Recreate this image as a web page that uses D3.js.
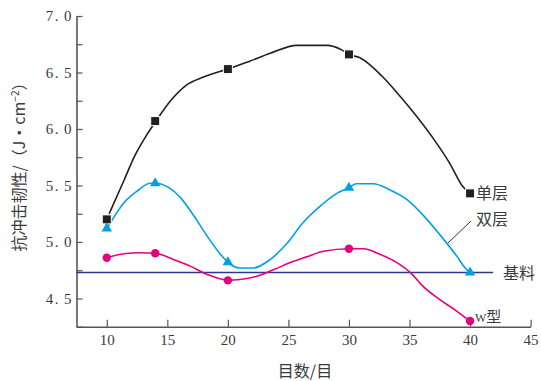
<!DOCTYPE html>
<html><head><meta charset="utf-8">
<script src="https://cdn.jsdelivr.net/npm/d3@7"></script>
<style>
body{margin:0;background:#fff;}
svg{display:block;}
</style></head>
<body>
<svg id="chart" width="541" height="381"></svg>
<script>
// ---- data ----
const markerX = [10, 14, 20, 30, 40];
const singleMarks = [5.20, 6.07, 6.53, 6.66, 5.43];
const doubleMarks = [5.12, 5.52, 4.82, 5.48, 4.73];
const wMarks = [4.86, 4.90, 4.66, 4.94, 4.30];
const baseValue = 4.73;

const singleCurveX = [10.2, 11.4, 12.3, 13.2, 14, 15.2, 16.6, 18.0, 19.4, 20, 21.8, 23.5, 25.7, 28.2, 29.4, 30, 30.9, 32.8, 33.9, 35.6, 37.0, 38.3, 39.4, 40];
const singleCurveY = [5.25, 5.54, 5.76, 5.93, 6.06, 6.24, 6.39, 6.46, 6.51, 6.53, 6.60, 6.67, 6.74, 6.74, 6.70, 6.66, 6.63, 6.46, 6.33, 6.11, 5.91, 5.70, 5.49, 5.43];

const doubleCurveX = [10, 10.3, 11.4, 12.5, 13.6, 14, 15.0, 16.1, 17.2, 18.3, 19.4, 20, 21.0, 22.1, 23.5, 24.9, 26.2, 27.6, 29.0, 30, 30.6, 32.0, 33.4, 34.8, 36.1, 37.5, 38.9, 39.6, 40];
const doubleCurveY = [5.12, 5.17, 5.345, 5.45, 5.52, 5.52, 5.49, 5.39, 5.23, 5.05, 4.89, 4.82, 4.77, 4.77, 4.845, 4.99, 5.17, 5.315, 5.43, 5.48, 5.515, 5.515, 5.46, 5.375, 5.24, 5.065, 4.875, 4.77, 4.73];

const wCurveX = [10, 11.4, 12.8, 14, 15.5, 16.9, 18.3, 20, 21.0, 22.4, 23.8, 25.1, 26.5, 27.9, 30, 31.2, 32.6, 34.0, 35.1, 36.1, 37.5, 38.9, 39.6, 40];
const wCurveY = [4.86, 4.895, 4.905, 4.90, 4.845, 4.786, 4.712, 4.662, 4.668, 4.697, 4.756, 4.815, 4.868, 4.918, 4.94, 4.94, 4.889, 4.815, 4.727, 4.609, 4.49, 4.388, 4.33, 4.30];

const xTicks = [10, 15, 20, 25, 30, 35, 40, 45];
const yTicks = [4.25, 4.5, 4.75, 5.0, 5.25, 5.5, 5.75, 6.0, 6.25, 6.5, 6.75, 7.0];
const yLabelTicks = [4.5, 5.0, 5.5, 6.0, 6.5, 7.0];

const seriesNames = ["单层", "双层", "基料", "W型"];
const colors = {single: "#231f20", double: "#00a0e9", base: "#30358c", w: "#e4007f"};

// ---- chart ----
const svg = d3.select("#chart");
const x = d3.scaleLinear().domain([7.5, 45]).range([76.5, 530.6]);
const y = d3.scaleLinear().domain([4.25, 7.0]).range([326.7, 16]);

const serif = "'Liberation Serif', 'DejaVu Serif', serif";
const cjk = "'Noto Sans CJK SC', sans-serif";
const txt = "#3a3a3a";
const axisCol = "#555";

// y axis
const yAxis = svg.append("g").attr("transform", "translate(76.5,0)")
  .call(d3.axisLeft(y).tickValues(yTicks).tickSizeInner(-6).tickSizeOuter(0).tickPadding(5)
    .tickFormat(d => yLabelTicks.some(v => Math.abs(v - d) < 1e-9) ? d3.format(".1f")(d) : ""));
yAxis.select(".domain").attr("stroke", axisCol).attr("stroke-width", 1.6);
yAxis.selectAll(".tick line").attr("stroke", axisCol).attr("stroke-width", 1.2);
yAxis.selectAll(".tick text").each(function(d) {
  const t = d3.select(this);
  const s = t.text();
  if (!s) return;
  const parts = s.split(".");
  t.text(null);
  t.append("tspan").text(parts[0]);
  t.append("tspan").attr("dx", 1.5).text(".");
  t.append("tspan").attr("dx", 5.5).text(parts[1]);
}).attr("font-family", serif).attr("font-size", 15).attr("fill", txt);

// x axis
const xAxis = svg.append("g").attr("transform", "translate(0,326.7)")
  .call(d3.axisBottom(x).tickValues(xTicks).tickSizeInner(-7).tickSizeOuter(0).tickPadding(8)
    .tickFormat(d3.format("d")));
xAxis.select(".domain").attr("stroke", axisCol).attr("stroke-width", 1.6);
xAxis.selectAll(".tick line").attr("stroke", axisCol).attr("stroke-width", 1.2);
xAxis.selectAll(".tick text").attr("font-family", serif).attr("font-size", 15).attr("fill", txt);

// base line
svg.append("line")
  .attr("x1", x(7.5)).attr("x2", x(41.9))
  .attr("y1", y(baseValue)).attr("y2", y(baseValue))
  .attr("stroke", colors.base).attr("stroke-width", 1.6);

const line = d3.line().x(d => x(d[0])).y(d => y(d[1])).curve(d3.curveMonotoneX);
function drawCurve(xs, ys, col) {
  svg.append("path").datum(xs.map((v, i) => [v, ys[i]]))
    .attr("d", line).attr("fill", "none").attr("stroke", col).attr("stroke-width", 1.6);
}
drawCurve(singleCurveX, singleCurveY, colors.single);
drawCurve(doubleCurveX, doubleCurveY, colors.double);
drawCurve(wCurveX, wCurveY, colors.w);

// markers
svg.append("g").selectAll("rect").data(markerX.map((v, i) => [v, singleMarks[i]])).join("rect")
  .attr("x", d => x(d[0]) - 4.5).attr("y", d => y(d[1]) - 4.5)
  .attr("width", 9).attr("height", 9).attr("fill", colors.single)
  .attr("stroke", "#fff").attr("stroke-width", 1);
const tri = d3.symbol().type(d3.symbolTriangle).size(48);
svg.append("g").selectAll("path").data(markerX.map((v, i) => [v, doubleMarks[i]])).join("path")
  .attr("d", tri).attr("transform", d => `translate(${x(d[0])},${y(d[1])})`)
  .attr("fill", colors.double);
svg.append("g").selectAll("circle").data(markerX.map((v, i) => [v, wMarks[i]])).join("circle")
  .attr("cx", d => x(d[0])).attr("cy", d => y(d[1])).attr("r", 4.2)
  .attr("fill", colors.w);

// series labels
svg.append("text").attr("x", 476).attr("y", 199).text(seriesNames[0])
  .attr("font-family", cjk).attr("font-size", 16).attr("fill", txt);
svg.append("text").attr("x", 476).attr("y", 225).text(seriesNames[1])
  .attr("font-family", cjk).attr("font-size", 16).attr("fill", txt);
svg.append("line").attr("x1", 448).attr("y1", 243).attr("x2", 471).attr("y2", 221)
  .attr("stroke", "#333").attr("stroke-width", 1);
svg.append("text").attr("x", 503).attr("y", 279).text(seriesNames[2])
  .attr("font-family", cjk).attr("font-size", 16).attr("fill", txt);
const wl = svg.append("text").attr("x", 475).attr("y", 322)
  .attr("font-family", cjk).attr("font-size", 15).attr("fill", txt);
wl.append("tspan").attr("font-family", serif).attr("font-size", 12).text("W");
wl.append("tspan").text("型");

// axis titles
svg.append("text").attr("x", 305).attr("y", 377).attr("text-anchor", "middle")
  .attr("font-family", cjk).attr("font-size", 16).attr("fill", txt).text("目数/目");
const yt = svg.append("text").attr("transform", "translate(25,163) rotate(-90)")
  .attr("text-anchor", "middle").attr("font-family", cjk).attr("font-size", 16).attr("fill", txt);
yt.append("tspan").text("抗冲击韧性/（J·cm");
yt.append("tspan").attr("font-size", 10).attr("dy", -6).text("−2");
yt.append("tspan").attr("dy", 6).text("）");
</script>
</body></html>
